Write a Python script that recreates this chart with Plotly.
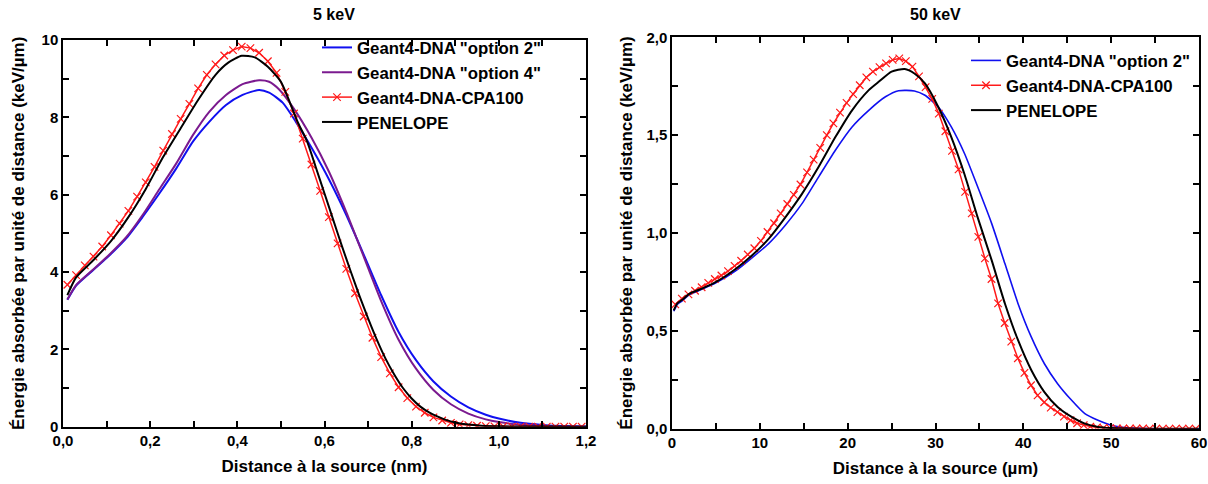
import plotly.graph_objects as go

# ---------------- 5 keV panel ----------------
x_opt2_5 = [0.01, 0.03, 0.07, 0.10, 0.145, 0.183, 0.221, 0.26, 0.298, 0.336, 0.374, 0.412, 0.45, 0.473,
            0.504, 0.534, 0.573, 0.611, 0.649, 0.69, 0.73, 0.77, 0.81, 0.85, 0.89, 0.93, 0.97, 1.00,
            1.05, 1.10, 1.15, 1.20]
y_opt2_5 = [3.28, 3.65, 4.06, 4.36, 4.87, 5.43, 6.03, 6.68, 7.37, 7.89, 8.32, 8.58, 8.71, 8.64,
            8.38, 7.89, 7.16, 6.38, 5.50, 4.45, 3.40, 2.45, 1.72, 1.17, 0.78, 0.50, 0.31, 0.21,
            0.10, 0.045, 0.015, 0.005]

x_opt4_5 = [0.01, 0.03, 0.07, 0.10, 0.145, 0.183, 0.221, 0.26, 0.298, 0.336, 0.374, 0.412, 0.45, 0.473,
            0.496, 0.53, 0.57, 0.61, 0.65, 0.69, 0.73, 0.77, 0.81, 0.85, 0.89, 0.93, 0.97, 1.00,
            1.05, 1.10, 1.15, 1.20]
y_opt4_5 = [3.29, 3.66, 4.07, 4.38, 4.90, 5.48, 6.14, 6.81, 7.54, 8.15, 8.58, 8.86, 8.96, 8.92,
            8.72, 8.22, 7.48, 6.60, 5.55, 4.40, 3.25, 2.25, 1.50, 0.95, 0.58, 0.34, 0.19, 0.12,
            0.05, 0.02, 0.007, 0.0]

x_cpa_5 = [0.01, 0.03, 0.05, 0.07, 0.09, 0.11, 0.13, 0.15, 0.17, 0.19,
           0.21, 0.23, 0.25, 0.27, 0.29, 0.31, 0.33, 0.35, 0.37, 0.39,
           0.41, 0.43, 0.45, 0.47, 0.49, 0.51, 0.53, 0.55, 0.57, 0.59,
           0.61, 0.63, 0.65, 0.67, 0.69, 0.71, 0.73, 0.75, 0.77, 0.79,
           0.81, 0.83, 0.85, 0.87, 0.89, 0.91, 0.93, 0.95, 0.97, 0.99,
           1.01, 1.03, 1.05, 1.07, 1.09, 1.11, 1.13, 1.15, 1.17, 1.19]
y_cpa_5 = [3.67, 3.92, 4.17, 4.40, 4.66, 4.95, 5.25, 5.58, 5.95, 6.32,
           6.72, 7.14, 7.57, 7.96, 8.35, 8.75, 9.10, 9.37, 9.60, 9.74,
           9.83, 9.79, 9.67, 9.45, 9.15, 8.66, 8.10, 7.45, 6.78, 6.10,
           5.42, 4.74, 4.08, 3.45, 2.85, 2.30, 1.80, 1.38, 1.02, 0.74,
           0.52, 0.36, 0.24, 0.16, 0.10, 0.06, 0.04, 0.025, 0.015, 0.010,
           0.006, 0.004, 0.003, 0.002, 0.002, 0.001, 0.001, 0.001, 0.001, 0.0]

x_pen_5 = [0.01, 0.03, 0.07, 0.11, 0.15, 0.19, 0.23, 0.27, 0.31, 0.35, 0.38, 0.41, 0.44, 0.47,
           0.50, 0.52, 0.54, 0.56, 0.58, 0.60, 0.62, 0.64, 0.66, 0.68, 0.70, 0.72, 0.74, 0.76, 0.78,
           0.80, 0.82, 0.84, 0.86, 0.88, 0.90, 0.93, 0.96, 1.00, 1.05, 1.10, 1.20]
y_pen_5 = [3.40, 3.86, 4.31, 4.80, 5.42, 6.15, 6.98, 7.72, 8.45, 9.10, 9.42, 9.59, 9.55, 9.31,
           8.92, 8.40, 7.84, 7.38, 6.71, 6.03, 5.35, 4.67, 4.02, 3.39, 2.80, 2.25, 1.76, 1.35, 1.00,
           0.73, 0.52, 0.37, 0.26, 0.17, 0.11, 0.055, 0.027, 0.01, 0.004, 0.002, 0.0]

# ---------------- 50 keV panel ----------------
x_opt2_50 = [0.2, 0.6, 1.2, 2.0, 3.4, 5.0, 7.2, 9.1, 11.0, 12.9, 14.8, 16.7, 18.6, 20.5, 22.4, 24.3,
             25.8, 27.6, 28.8, 30.3, 31.8, 33.3, 34.8, 36.4, 37.9, 39.4, 40.9, 42.4, 43.9, 45.5,
             47.0, 48.5, 50.0, 51.5, 53.0, 55.0, 60.0]
y_opt2_50 = [0.600, 0.635, 0.655, 0.685, 0.712, 0.745, 0.805, 0.873, 0.946, 1.040, 1.150, 1.287, 1.423, 1.542, 1.627, 1.696,
             1.727, 1.726, 1.704, 1.645, 1.542, 1.406, 1.236, 1.048, 0.844, 0.639, 0.469, 0.332, 0.230, 0.145,
             0.077, 0.043, 0.018, 0.006, 0.002, 0.0, 0.0]

x_cpa_50 = [0.375, 1.125, 1.875, 2.625, 3.375, 4.125, 4.875, 5.625, 6.375, 7.125,
            7.875, 8.625, 9.375, 10.125, 10.875, 11.625, 12.375, 13.125, 13.875, 14.625,
            15.375, 16.125, 16.875, 17.625, 18.375, 19.125, 19.875, 20.625, 21.375, 22.125,
            22.875, 23.625, 24.375, 25.125, 25.875, 26.625, 27.375, 28.125, 28.875, 29.625,
            30.375, 31.125, 31.875, 32.625, 33.375, 34.125, 34.875, 35.625, 36.375, 37.125,
            37.875, 38.625, 39.375, 40.125, 40.875, 41.625, 42.375, 43.125, 43.875, 44.625,
            45.375, 46.125, 46.875, 47.625, 48.375, 49.125, 49.875, 50.625, 51.375, 52.125,
            52.875, 53.625, 54.375, 55.125, 55.875, 56.625, 57.375, 58.125, 58.875, 59.625]
y_cpa_50 = [0.635, 0.665, 0.686, 0.705, 0.723, 0.745, 0.765, 0.783, 0.805, 0.832,
            0.858, 0.890, 0.922, 0.960, 1.005, 1.050, 1.100, 1.148, 1.195, 1.248,
            1.310, 1.375, 1.435, 1.500, 1.560, 1.615, 1.665, 1.710, 1.755, 1.795,
            1.825, 1.848, 1.867, 1.885, 1.892, 1.878, 1.850, 1.800, 1.745, 1.685,
            1.610, 1.520, 1.420, 1.325, 1.210, 1.100, 0.980, 0.870, 0.765, 0.640,
            0.540, 0.445, 0.360, 0.285, 0.222, 0.170, 0.135, 0.108, 0.085, 0.062,
            0.043, 0.028, 0.018, 0.011, 0.007, 0.004, 0.003, 0.002, 0.001, 0.001,
            0.001, 0.001, 0.0, 0.0, 0.0, 0.0, 0.0, 0.0, 0.0, 0.0]

x_pen_50 = [0.2, 0.6, 1.2, 2.0, 3.4, 5.0, 7.2, 9.1, 11.0, 12.9, 14.8, 16.7, 18.6, 20.5, 22.4, 23.6,
            25.0, 26.5, 27.6, 28.8, 30.3, 31.8, 33.3, 34.8, 36.4, 37.9, 39.4, 40.9, 42.4, 43.9,
            45.5, 47.0, 48.5, 50.0, 52.0, 55.0, 60.0]
y_pen_50 = [0.605, 0.640, 0.660, 0.690, 0.716, 0.750, 0.815, 0.885, 0.970, 1.080, 1.200, 1.338, 1.490, 1.627, 1.730, 1.775,
            1.825, 1.838, 1.815, 1.764, 1.645, 1.490, 1.300, 1.080, 0.860, 0.640, 0.452, 0.300, 0.187, 0.111,
            0.060, 0.026, 0.009, 0.003, 0.001, 0.0, 0.0]

names = ['Geant4-DNA "option 2"', 'Geant4-DNA "option 4"', 'Geant4-DNA-CPA100', 'PENELOPE']
BLUE, PURPLE, RED, BLACK = '#1010F0', '#7B1A8F', '#FF1A1A', '#000000'

FONT = 'Liberation Sans'
fig = go.Figure()

def line_trace(x, y, name, color, xa, ya, leg, width=2.0):
    return go.Scatter(x=x, y=y, name=name, mode='lines',
                      line=dict(color=color, width=width, shape='spline', smoothing=0.6),
                      xaxis=xa, yaxis=ya, legend=leg)

def cpa_trace(x, y, name, xa, ya, leg):
    return go.Scatter(x=x, y=y, name=name, mode='lines+markers',
                      line=dict(color=RED, width=1.5),
                      marker=dict(symbol='x-thin-open', size=7.5, color=RED, line=dict(color=RED, width=1.2)),
                      xaxis=xa, yaxis=ya, legend=leg)

# left panel
fig.add_trace(line_trace(x_opt2_5, y_opt2_5, names[0], BLUE, 'x', 'y', 'legend'))
fig.add_trace(line_trace(x_opt4_5, y_opt4_5, names[1], PURPLE, 'x', 'y', 'legend'))
fig.add_trace(cpa_trace(x_cpa_5, y_cpa_5, names[2], 'x', 'y', 'legend'))
fig.add_trace(line_trace(x_pen_5, y_pen_5, names[3], BLACK, 'x', 'y', 'legend'))
# right panel
fig.add_trace(line_trace(x_opt2_50, y_opt2_50, names[0], BLUE, 'x2', 'y2', 'legend2', width=1.6))
fig.add_trace(cpa_trace(x_cpa_50, y_cpa_50, names[2], 'x2', 'y2', 'legend2'))
fig.add_trace(line_trace(x_pen_50, y_pen_50, names[3], BLACK, 'x2', 'y2', 'legend2'))

tickfont = dict(family=FONT, size=15, color='black', weight='bold')
xtitlefont = dict(family=FONT, size=17, color='black', weight='bold')
ytitlefont = dict(family=FONT, size=17, color='black', weight='bold')
legfont = dict(family=FONT, size=16.8, color='black', weight='bold')
ytitle = 'Énergie absorbée par unité de distance (keV/µm)'

def axis_common():
    return dict(showline=True, linecolor='black', linewidth=1.5, mirror='ticks',
                ticks='inside', ticklen=6, tickwidth=1.5, tickcolor='black',
                showgrid=False, zeroline=False, tickfont=tickfont, automargin=False,
                ticklabeloverflow='allow')

L, R, T, B = 63, 9, 37, 55
W, H = 1208, 484
pw, ph = W - L - R, H - T - B

def px_x(p):
    return (p - L) / pw

def px_y(p):
    return (H - B - p) / ph

minor_common = dict(ticks='inside', ticklen=6, tickwidth=1.5, tickcolor='black')

fig.update_layout(
    width=W, height=H,
    margin=dict(l=L, r=R, t=T, b=B),
    paper_bgcolor='white', plot_bgcolor='white',
    separators=', ',
    font=dict(family=FONT, color='black'),
    xaxis=dict(domain=[0, px_x(586)], range=[0, 1.2], dtick=0.2, tickformat='.1f',
               minor=dict(dtick=0.1, **minor_common),
               title=dict(text='Distance à la source (nm)', font=xtitlefont, standoff=12),
               anchor='y', **axis_common()),
    yaxis=dict(domain=[px_y(426.7), px_y(40)], range=[0, 10], dtick=2,
               minor=dict(dtick=1, **minor_common),
               title=dict(text=ytitle, font=ytitlefont, standoff=13),
               anchor='x', **axis_common()),
    xaxis2=dict(domain=[px_x(672), 1], range=[0, 60], dtick=10,
                minor=dict(dtick=5, **minor_common),
                title=dict(text='Distance à la source (µm)', font=xtitlefont, standoff=12),
                anchor='y2', **axis_common()),
    yaxis2=dict(domain=[px_y(428.7), px_y(37.3)], range=[0, 2], dtick=0.5, tickformat='.1f',
                minor=dict(dtick=0.25, **minor_common),
                title=dict(text=ytitle, font=ytitlefont, standoff=9),
                anchor='x2', **axis_common()),
    legend=dict(x=px_x(317), y=px_y(30), xanchor='left', yanchor='top',
                bgcolor='rgba(0,0,0,0)', borderwidth=0, tracegroupgap=0,
                font=legfont, itemwidth=30),
    legend2=dict(x=px_x(966), y=px_y(43), xanchor='left', yanchor='top',
                 bgcolor='rgba(0,0,0,0)', borderwidth=0, tracegroupgap=0,
                 font=legfont, itemwidth=30),
    showlegend=True,
    annotations=[
        dict(text='5 keV', x=(px_x(63) + px_x(586)) / 2 + 0.008, y=px_y(14), xref='paper', yref='paper',
             showarrow=False, xanchor='center', yanchor='middle',
             font=dict(family=FONT, size=16, color='black', weight='bold')),
        dict(text='50 keV', x=(px_x(672) + 1) / 2, y=px_y(14), xref='paper', yref='paper',
             showarrow=False, xanchor='center', yanchor='middle',
             font=dict(family=FONT, size=16, color='black', weight='bold')),
    ],
)

fig.write_html('out.html', config={'displayModeBar': False},
               post_script="document.body.style.margin='0px';document.body.style.overflow='hidden';")
